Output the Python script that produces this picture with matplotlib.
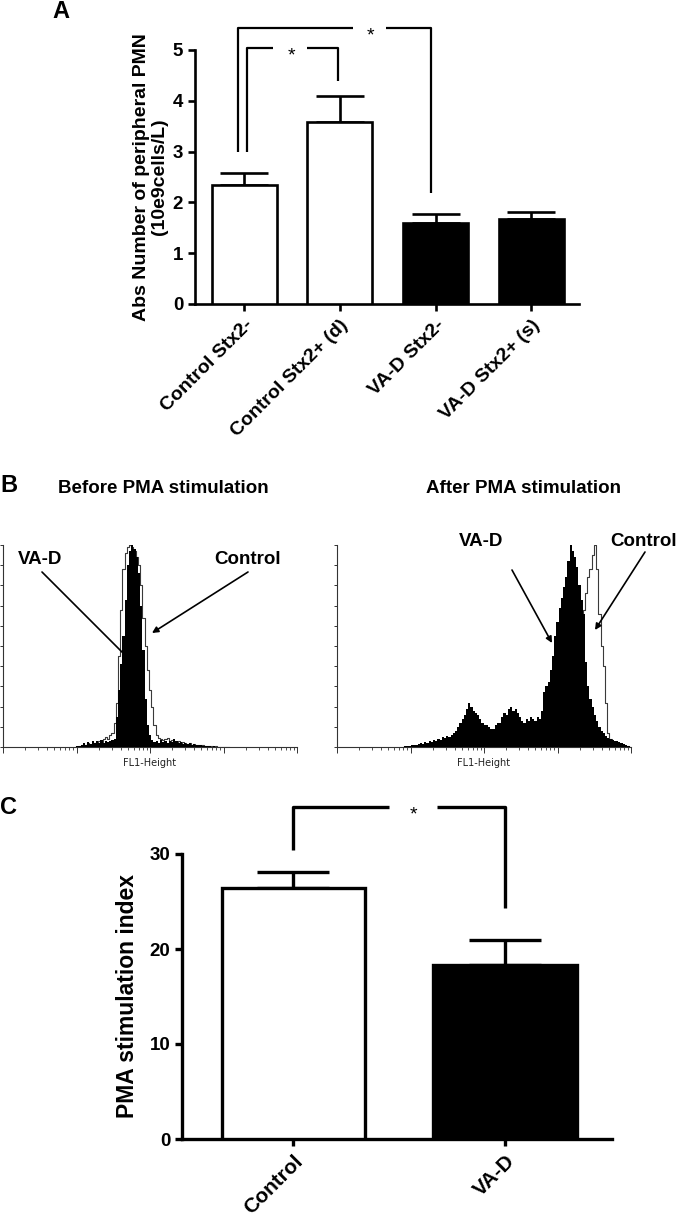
import numpy as np
import matplotlib
matplotlib.use("Agg")
import matplotlib.pyplot as plt

plt.rcParams['font.family'] = ['Liberation Sans', 'DejaVu Sans']

# ---------------- data ----------------
# Panel A: absolute number of peripheral PMN (10e9 cells/L)
a_categories = ['Control Stx2-', 'Control Stx2+ (d)', 'VA-D Stx2-', 'VA-D Stx2+ (s)']
a_means = [2.35, 3.59, 1.60, 1.67]
a_sem = [0.23, 0.50, 0.18, 0.15]
a_colors = ['white', 'white', 'black', 'black']

# Panel C: PMA stimulation index
c_categories = ['Control', 'VA-D']
c_means = [26.4, 18.3]
c_sem = [1.7, 2.7]
c_colors = ['white', 'black']

# Panel B: FL1-Height histograms (counts, % of max) on log10 channel grid
hist_step = 0.03
before_start = 0.98
before_vad = [0, 0.3, 0.6, 1, 1.8, 1.2, 2.5, 1.5, 3, 2, 2.8, 2.2, 3.5, 2, 3, 2.5, 3, 3.5,
              4, 15, 28, 41, 55, 73, 90, 97, 100, 98, 94, 86, 70, 48, 24, 11, 6, 3.5,
              2.5, 3, 2, 3.5, 2.5, 3, 2, 3, 2.5, 4, 3, 2, 2.5, 1.5, 2, 1.5, 2, 1, 1.5, 1,
              0.8, 1, 0.5, 0.6, 0.3, 0.4, 0.2, 0.3, 0.1, 0.2, 0, 0.1, 0, 0.1, 0]
before_control = [0, 0.2, 0.5, 0.8, 1.2, 1, 1.8, 1.2, 2.2, 1.8, 2.5, 3, 2.5, 4, 5, 4, 6, 7,
                  12, 22, 45, 68, 88, 96, 99, 100, 99, 97, 94, 90, 80, 64, 50, 38, 28, 20,
                  11, 6, 4.5, 4, 3.5, 4, 4.5, 3, 3.5, 3, 2.5, 3, 2, 2.5, 2, 1.5, 1.8, 1.2, 1.5, 1,
                  1.2, 0.8, 1, 0.5, 0.6, 0.3, 0.4, 0.2, 0.3, 0.1, 0.2, 0, 0.1, 0, 0]
after_start = 0.90
after_vad = [0, 0.3, 0.5, 0.3, 1, 1.2, 0.8, 1.5, 2, 1.5, 2.5, 2, 3, 2.5, 3.5, 3, 4, 3.5,
             5, 4.5, 5.5, 5, 6, 7, 8, 10, 12, 14, 16, 19, 22, 20, 18, 17, 16, 14, 12, 11,
             11, 10, 9, 9, 11, 12, 12, 15, 17, 16, 19, 20, 18, 19, 17, 15, 13, 12, 14, 13,
             15, 14, 13, 15, 14, 18, 27, 30, 32, 38, 45, 55, 62, 69, 74, 79, 84, 92, 100,
             97, 94, 89, 80, 73, 66, 42, 30, 24, 20, 16, 13, 10, 8, 7, 5.5, 4.5, 4, 3.5,
             3, 3, 2.5, 2, 1.5, 1, 0.6, 0.3]
after_control = [0, 0, 0.2, 0.2, 0.5, 0.6, 0.4, 0.8, 1, 0.8, 1.2, 1, 1.5, 1.2, 1.8, 1.5, 2,
                 1.8, 2.5, 2.2, 2.8, 2.5, 3, 3.5, 4, 5, 6, 7, 8, 9, 10, 10, 9, 8, 8, 7, 6,
                 5.5, 5.5, 5, 4.5, 4.5, 5, 6, 6, 7, 8, 8, 9, 10, 9, 9, 8, 7, 7, 6, 7, 7, 8,
                 8, 8, 9, 9, 11, 14, 17, 20, 24, 28, 33, 38, 42, 46, 50, 54, 58, 61, 63, 64,
                 63, 62, 63, 68, 76, 84, 88, 95, 100, 88, 66, 50, 40, 22, 7, 4, 3, 2.5, 2.5,
                 2, 1.5, 1, 0.6, 0.3, 0]

# ---------------- figure ----------------
W, H = 680, 1219
fig = plt.figure(figsize=(W / 100, H / 100), dpi=100)


def add_axes_px(x0, y0, x1, y1):
    return fig.add_axes([x0 / W, 1 - y1 / H, (x1 - x0) / W, (y1 - y0) / H])


def fpt(x, y):
    return (x / W, 1 - y / H)


# ---------------- Panel A ----------------
lwA = 1.9
axA = add_axes_px(195, 304 - 5.6 * 50.8, 579, 304)
xa = np.arange(len(a_categories))
axA.bar(xa, a_means, width=0.68, color=a_colors, edgecolor='black', linewidth=lwA, zorder=3)
axA.errorbar(xa, a_means, yerr=[np.zeros(len(xa)), a_sem], fmt='none', ecolor='black',
             elinewidth=lwA, capsize=17.5, capthick=lwA, zorder=2)
axA.set_xlim(-0.514, 3.50)
axA.set_ylim(0, 5.6)
axA.set_yticks(range(6))
axA.spines['left'].set_bounds(0, 5)
for s in ['top', 'right']:
    axA.spines[s].set_visible(False)
for s in ['left', 'bottom']:
    axA.spines[s].set_linewidth(lwA)
axA.tick_params(axis='both', length=5, width=lwA, labelsize=13.5)
axA.tick_params(axis='x', pad=4)
axA.set_xticks(xa)
axA.set_xticklabels(a_categories, rotation=45, ha='right', rotation_mode='anchor',
                    fontsize=14, fontweight='bold')
for lbl in axA.get_yticklabels():
    lbl.set_fontweight('bold')
axA.set_ylabel('Abs Number of peripheral PMN\n(10e9cells/L)', fontsize=14, fontweight='bold',
               linespacing=1.1)
axA.yaxis.set_label_coords(-0.07, 0.4464)

blw = 1.6
axA.plot([-0.063, -0.063, 1.14], [2.99, 5.43, 5.43], color='black', lw=blw, clip_on=False,
         solid_capstyle='butt')
axA.plot([1.48, 1.95, 1.95], [5.43, 5.43, 2.18], color='black', lw=blw, clip_on=False,
         solid_capstyle='butt')
axA.annotate('*', xy=(1.32, 5.43), xytext=(0, -9), textcoords='offset points',
             ha='center', va='baseline', fontsize=14, annotation_clip=False)
axA.plot([0.03, 0.03, 0.304], [2.99, 5.04, 5.04], color='black', lw=blw, clip_on=False,
         solid_capstyle='butt')
axA.plot([0.661, 0.976, 0.976], [5.04, 5.04, 4.39], color='black', lw=blw, clip_on=False,
         solid_capstyle='butt')
axA.annotate('*', xy=(0.49, 5.04), xytext=(0, -9), textcoords='offset points',
             ha='center', va='baseline', fontsize=14, annotation_clip=False)

fig.text(*fpt(52, 12), 'A', fontsize=17, fontweight='bold', ha='left', va='center')

# ---------------- Panel B ----------------
fig.text(*fpt(0, 486), 'B', fontsize=17, fontweight='bold', ha='left', va='center')
fig.text(*fpt(163, 488), 'Before PMA stimulation', fontsize=13.5, fontweight='bold',
         ha='center', va='center')
fig.text(*fpt(523, 488), 'After PMA stimulation', fontsize=13.5, fontweight='bold',
         ha='center', va='center')


def draw_hist(ax, start, vad, ctrl):
    xv = 10 ** (start + hist_step * np.arange(len(vad)))
    xc = 10 ** (start + hist_step * np.arange(len(ctrl)))
    ax.step(xc, ctrl, where='mid', color='#3a3a3a', lw=0.8, zorder=2)
    ax.fill_between(xv, vad, step='mid', color='black', lw=0, zorder=3)
    ax.set_xscale('log')
    ax.set_xlim(1, 1e4)
    ax.set_ylim(0, 100)
    ax.set_yticks(np.arange(0, 101, 10))
    for s in ['top', 'right']:
        ax.spines[s].set_visible(False)
    for s in ['left', 'bottom']:
        ax.spines[s].set_linewidth(0.8)
        ax.spines[s].set_color('#333333')
    ax.tick_params(which='major', length=4, width=0.7, color='#333333',
                   labelbottom=False, labelleft=False)
    ax.tick_params(which='minor', length=2.5, width=0.6, color='#333333')
    ax.tick_params(axis='y', which='major', length=2.5)
    ax.set_xlabel('FL1-Height', fontsize=7, family='DejaVu Sans', labelpad=2, color='#222222')


axB1 = add_axes_px(3, 545, 297, 747)
draw_hist(axB1, before_start, before_vad, before_control)
axB2 = add_axes_px(337, 545, 631, 747)
draw_hist(axB2, after_start, after_vad, after_control)

ann_kw = dict(fontsize=13.5, fontweight='bold', ha='center', va='center')
fig.text(*fpt(40, 559), 'VA-D', **ann_kw)
fig.text(*fpt(248, 559), 'Control', **ann_kw)
fig.text(*fpt(481, 541), 'VA-D', **ann_kw)
fig.text(*fpt(644, 541), 'Control', **ann_kw)

line_kw = dict(arrowstyle='-', lw=1.2, color='black', shrinkA=0, shrinkB=0)
arr_kw = dict(arrowstyle='-|>', lw=1.2, color='black', shrinkA=0, shrinkB=0,
              mutation_scale=9)
fig.add_artist(matplotlib.patches.FancyArrowPatch(fpt(42, 572), fpt(123, 653),
                                                  transform=fig.transFigure, **line_kw))
fig.add_artist(matplotlib.patches.FancyArrowPatch(fpt(248, 572), fpt(152, 633),
                                                  transform=fig.transFigure, **arr_kw))
fig.add_artist(matplotlib.patches.FancyArrowPatch(fpt(512, 570), fpt(552, 643),
                                                  transform=fig.transFigure, **arr_kw))
fig.add_artist(matplotlib.patches.FancyArrowPatch(fpt(645, 552), fpt(595, 630),
                                                  transform=fig.transFigure, **arr_kw))

# ---------------- Panel C ----------------
lwC = 2.4
axC = add_axes_px(182, 1139 - 36 * 9.5, 612, 1139)
xc_ = np.arange(len(c_categories))
axC.bar(xc_, c_means, width=0.675, color=c_colors, edgecolor='black', linewidth=lwC, zorder=3)
axC.errorbar(xc_, c_means, yerr=[np.zeros(len(xc_)), c_sem], fmt='none', ecolor='black',
             elinewidth=lwC, capsize=26, capthick=lwC, zorder=2)
axC.set_xlim(-0.524, 1.505)
axC.set_ylim(0, 36)
axC.set_yticks([0, 10, 20, 30])
axC.spines['left'].set_bounds(0, 30)
for s in ['top', 'right']:
    axC.spines[s].set_visible(False)
for s in ['left', 'bottom']:
    axC.spines[s].set_linewidth(lwC)
axC.tick_params(axis='both', length=5, width=lwC, labelsize=13.5)
axC.tick_params(axis='x', pad=4)
axC.set_xticks(xc_)
axC.set_xticklabels(c_categories, rotation=45, ha='right', rotation_mode='anchor',
                    fontsize=15, fontweight='bold')
for lbl in axC.get_yticklabels():
    lbl.set_fontweight('bold')
axC.set_ylabel('PMA stimulation index', fontsize=16.5, fontweight='bold')
axC.yaxis.set_label_coords(-0.10, 0.4167)

axC.plot([0, 0, 0.453], [30.4, 34.9, 34.9], color='black', lw=lwC, clip_on=False,
         solid_capstyle='butt')
axC.plot([0.68, 1.0, 1.0], [34.9, 34.9, 24.3], color='black', lw=lwC, clip_on=False,
         solid_capstyle='butt')
axC.annotate('*', xy=(0.566, 34.9), xytext=(0, -9), textcoords='offset points',
             ha='center', va='baseline', fontsize=14, annotation_clip=False)

fig.text(*fpt(0, 808), 'C', fontsize=17, fontweight='bold', ha='left', va='center')

fig.savefig('out.png', dpi=100)
